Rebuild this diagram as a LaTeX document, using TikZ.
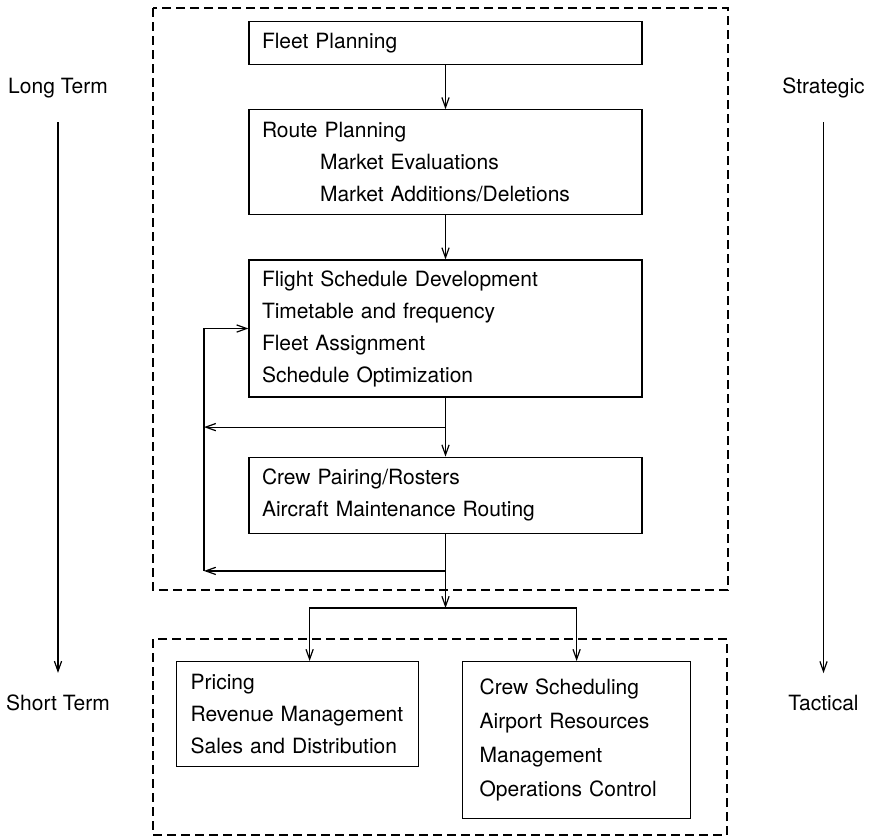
\documentclass[tikz,border=0pt]{standalone}
\usepackage{fontspec}
\setmainfont{TeX Gyre Heros}
\usetikzlibrary{positioning,arrows.meta}
\tikzset{
    every node/.style = {font=\fontsize{10.5pt}{16pt}\selectfont},
    stage/.style = {draw, line width=0.6pt, anchor=north, minimum width=196.5pt,
        text width=183.5pt, inner xsep=6.5pt, inner ysep=0pt, align=left},
    group/.style = {draw, line width=0.6pt, dash pattern=on 4.5pt off 2.5pt},
    flow/.style = {draw, line width=0.6pt, -{Straight Barb[length=5pt,width=3.6pt]}}
}

\begin{document}
\begin{tikzpicture}[x=0.5pt, y=-0.5pt]
        \useasboundingbox (0,0) rectangle (870,836);
        \draw[group] (153,8) rectangle (728,590);
        \draw[group] (153,639) rectangle (727,835);

        \node[stage, minimum height=21.5pt] (fleet) at (445.5,21) {Fleet Planning};
        \node[stage, minimum height=52.5pt, below=22pt of fleet] (route) {Route Planning\\
            \hspace*{29pt}Market Evaluations\\
            \hspace*{29pt}Market Additions/Deletions};
        \node[stage, minimum height=68.5pt, below=22pt of route] (flight) {Flight Schedule Development\\
            Timetable and frequency\\
            Fleet Assignment\\
            Schedule Optimization};
        \node[stage, minimum height=38pt, below=29.5pt of flight] (pair) {Crew Pairing/Rosters\\
            Aircraft Maintenance Routing};
        \node[stage, anchor=north west, minimum width=121pt, text width=107pt, inner xsep=7pt,
            minimum height=52.5pt] (price) at (176,661) {Pricing\\
            Revenue Management\\
            Sales and Distribution};
        \node[stage, anchor=north west, minimum width=114pt, text width=97pt, inner xsep=8.5pt,
            minimum height=78.5pt, font=\fontsize{10.5pt}{17pt}\selectfont] (ops) at (462,661) {Crew Scheduling\\
            Airport Resources\\
            Management\\
            Operations Control};

        \node (long) at (58,88) {Long Term};
        \node (short) at (58,703) {Short Term};
        \node (strat) at (823.5,88) {Strategic};
        \node (tact) at (823.5,703) {Tactical};

        \path (flight.south) -- coordinate (split1) (pair.north);
        \coordinate (fork) at (445.5,608);
        \path (pair.south) -- coordinate (split2) (fork);
        \coordinate (back) at (204,0);

        \draw[flow] (fleet) -- (route);
        \draw[flow] (route) -- (flight);
        \draw[flow] (flight) -- (pair);
        \draw[flow] (split1) -- (split1 -| back);
        \draw[flow] (pair.south) -- (fork);
        \draw[flow] (split2) -- (split2 -| back);
        \draw[flow] (split2 -| back) |- (flight.west);
        \draw[flow] (fork) -| ([xshift=6pt]price.north);
        \draw[flow] (fork) -| (ops.north);

        \draw[flow, shorten <=8.5pt, shorten >=7.5pt] (long) -- (short);
        \draw[flow, shorten <=8.5pt, shorten >=7.5pt] (strat) -- (tact);
\end{tikzpicture}
\end{document}
